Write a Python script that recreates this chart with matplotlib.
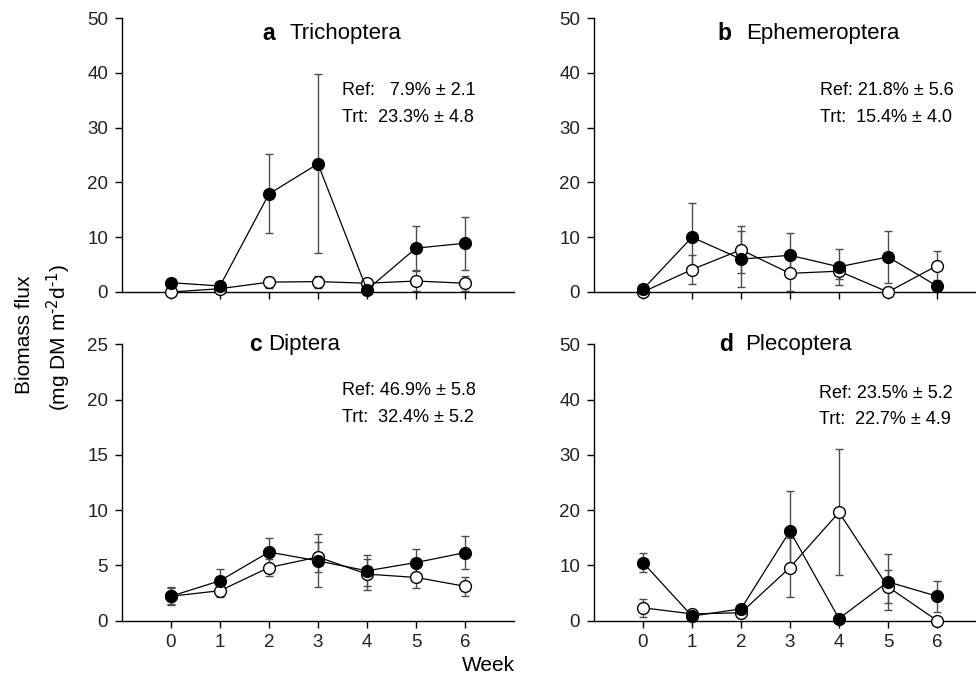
"""Biomass flux per taxon, reference vs treatment reaches."""

import matplotlib

matplotlib.use("Agg")
import matplotlib.pyplot as plt

plt.rcParams["font.family"] = ["Liberation Sans", "DejaVu Sans"]
plt.rcParams["mathtext.default"] = "regular"

weeks = [0, 1, 2, 3, 4, 5, 6]

# open circles / filled circles, mean and SE
tri_open = [0.0, 0.6, 1.8, 1.9, 1.6, 2.0, 1.6]
tri_open_se = [0.2, 0.4, 1.0, 1.1, 0.5, 1.8, 1.4]
tri_fill = [1.7, 1.1, 17.9, 23.4, 0.4, 8.0, 8.9]
tri_fill_se = [0.3, 0.4, 7.2, 16.3, 0.2, 4.0, 4.8]

eph_open = [0.0, 4.1, 7.7, 3.4, 3.8, 0.0, 4.8]
eph_open_se = [0.2, 2.6, 4.3, 3.2, 1.5, 0.2, 2.7]
eph_fill = [0.5, 10.0, 6.0, 6.7, 4.6, 6.4, 1.1]
eph_fill_se = [0.3, 6.3, 5.1, 4.0, 3.3, 4.8, 0.5]

dip_open = [2.2, 2.7, 4.8, 5.75, 4.2, 3.9, 3.1]
dip_open_se = [0.7, 0.6, 0.8, 1.35, 1.4, 1.0, 0.85]
dip_fill = [2.2, 3.6, 6.2, 5.4, 4.5, 5.25, 6.15]
dip_fill_se = [0.8, 1.1, 1.3, 2.4, 1.4, 1.25, 1.5]

ple_open = [2.3, 1.2, 1.4, 9.6, 19.6, 6.1, 0.0]
ple_open_se = [1.6, 0.3, 0.3, 5.3, 11.4, 3.0, 0.2]
ple_fill = [10.5, 0.8, 2.1, 16.2, 0.35, 7.0, 4.4]
ple_fill_se = [1.7, 0.3, 0.4, 7.3, 0.2, 5.1, 2.8]

panels = [
    ("a", "Trichoptera", tri_open, tri_open_se, tri_fill, tri_fill_se, 50, 10,
     ["Ref:   7.9% \u00b1 2.1", "Trt:  23.3% \u00b1 4.8"]),
    ("b", "Ephemeroptera", eph_open, eph_open_se, eph_fill, eph_fill_se, 50, 10,
     ["Ref: 21.8% \u00b1 5.6", "Trt:  15.4% \u00b1 4.0"]),
    ("c", "Diptera", dip_open, dip_open_se, dip_fill, dip_fill_se, 25, 5,
     ["Ref: 46.9% \u00b1 5.8", "Trt:  32.4% \u00b1 5.2"]),
    ("d", "Plecoptera", ple_open, ple_open_se, ple_fill, ple_fill_se, 50, 10,
     ["Ref: 23.5% \u00b1 5.2", "Trt:  22.7% \u00b1 4.9"]),
]

# axes boxes in figure fraction
boxes = [
    (0.125, 0.5706, 0.4016, 0.4029),
    (0.6086, 0.5706, 0.4016, 0.4029),
    (0.125, 0.0875, 0.4016, 0.4059),
    (0.6086, 0.0875, 0.4016, 0.4059),
]
title_pos = [(0.358, 0.428, 0.945), (0.314, 0.388, 0.945), (0.325, 0.372, 1.0), (0.318, 0.385, 1.0)]
note_pos = [(0.562, 0.735, 0.637), (0.576, 0.735, 0.637), (0.562, 0.833, 0.735), (0.575, 0.823, 0.729)]

fig = plt.figure(figsize=(9.76, 6.8), dpi=100)

for i, (letter, name, yo, yo_se, yf, yf_se, ymax, ystep, notes) in enumerate(panels):
    ax = fig.add_axes(boxes[i])
    ax.errorbar(weeks, yo, yerr=yo_se, fmt="none", ecolor="0.3", elinewidth=1.0,
                capsize=3, capthick=1.0, zorder=2)
    ax.errorbar(weeks, yf, yerr=yf_se, fmt="none", ecolor="0.3", elinewidth=1.0,
                capsize=3, capthick=1.0, zorder=2)
    ax.plot(weeks, yo, "-o", color="black", lw=0.9, ms=8.5, mfc="white", mec="black",
            mew=1.0, zorder=3, clip_on=False)
    ax.plot(weeks, yf, "-o", color="black", lw=0.9, ms=8.5, mfc="black", mec="black",
            mew=1.0, zorder=4, clip_on=False)

    ax.set_xlim(-1, 7)
    ax.set_ylim(0, ymax)
    ax.set_xticks(weeks)
    ax.set_yticks(range(0, ymax + 1, ystep))
    if i < 2:
        ax.set_xticklabels([])
    for side in ("top", "right"):
        ax.spines[side].set_visible(False)
    for side in ("left", "bottom"):
        ax.spines[side].set_linewidth(1.0)
    ax.tick_params(direction="out", length=5, width=1.0, labelsize=13.5, pad=5,
                   colors="black", labelcolor="#222222")
    ax.patch.set_alpha(0)

    lx, nx, ty = title_pos[i]
    ax.text(lx, ty, letter, transform=ax.transAxes, fontsize=16.5, fontweight="bold",
            ha="left", va="center")
    ax.text(nx, ty, name, transform=ax.transAxes, fontsize=16, ha="left", va="center")

    tx, y1, y2 = note_pos[i]
    ax.text(tx, y1, notes[0], transform=ax.transAxes, fontsize=13, ha="left", va="center")
    ax.text(tx, y2, notes[1], transform=ax.transAxes, fontsize=13, ha="left", va="center")

fig.text(0.025, 0.507, "Biomass flux", rotation=90, fontsize=15, ha="center", va="center")
fig.text(0.06, 0.504, "(mg DM m$^{\\text{-2}}$d$^{\\text{-1}}$)", rotation=90, fontsize=15,
         ha="center", va="center")
fig.text(0.5, 0.022, "Week", fontsize=15, ha="center", va="center")

fig.savefig("out.png", dpi=100)
